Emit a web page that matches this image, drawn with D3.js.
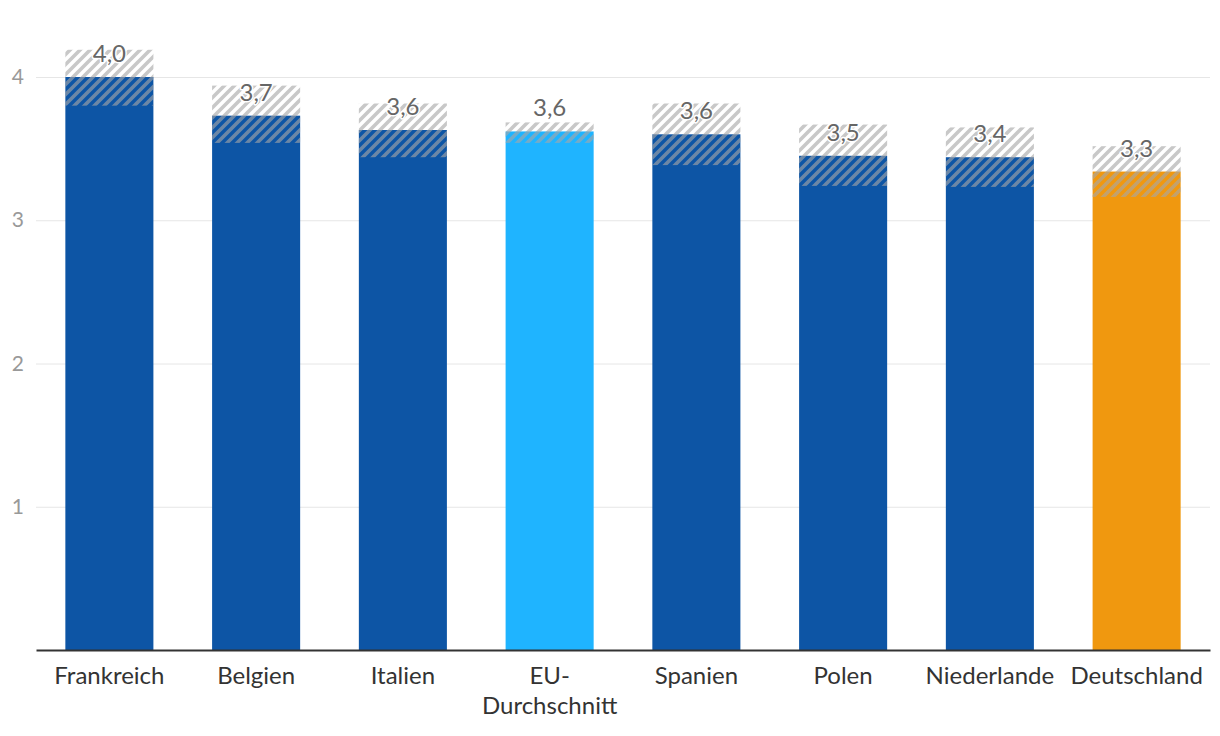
<!DOCTYPE html>
<html>
<head>
<meta charset="utf-8">
<script src="https://cdn.jsdelivr.net/npm/d3@7"></script>
<style>
html,body{margin:0;padding:0;background:#fff;}
svg{display:block;font-family:Lato,"Open Sans",sans-serif;}
</style>
</head>
<body>
<svg id="chart" width="1220" height="736"></svg>
<script>
const categories = ["Frankreich","Belgien","Italien","EU-Durchschnitt","Spanien","Polen","Niederlande","Deutschland"];
const categoryLines = [["Frankreich"],["Belgien"],["Italien"],["EU-","Durchschnitt"],["Spanien"],["Polen"],["Niederlande"],["Deutschland"]];
const values = [4.00, 3.73, 3.63, 3.62, 3.60, 3.45, 3.44, 3.34];
const lower  = [3.80, 3.54, 3.44, 3.54, 3.385, 3.24, 3.233, 3.163];
const upper  = [4.19, 3.94, 3.815, 3.683, 3.815, 3.668, 3.648, 3.517];
const colorKeys = ["land","land","land","eu","land","land","land","de"];
const yTicks = [1, 2, 3, 4];

const palette = {land:"#0d55a5", eu:"#1fb4ff", de:"#f0980f"};

const svg = d3.select("#chart");
const x = d3.scaleBand().domain(categories).range([36, 1210]).paddingInner(0.4).paddingOuter(0.2);
const y = d3.scaleLinear().domain([0, 4]).range([650, 77]);

// pattern
const defs = svg.append("defs");
const pat = defs.append("pattern").attr("id","hatch").attr("patternUnits","userSpaceOnUse")
  .attr("width",10).attr("height",10);
pat.append("path").attr("d","M-2,12 L12,-2 M-2,2 L2,-2 M8,12 L12,8")
  .attr("stroke","rgb(166,166,166)").attr("stroke-opacity",0.62).attr("stroke-width",3.6).attr("fill","none");

// grid
const yAxis = d3.axisLeft(y).tickValues(yTicks).tickSize(-(1210-36)).tickPadding(12).tickFormat(d3.format("d"));
const gy = svg.append("g").attr("transform","translate(36,0)").call(yAxis);
gy.select(".domain").remove();
gy.selectAll(".tick line").attr("stroke","#e6e6e6").attr("stroke-width",1);
gy.selectAll(".tick text").attr("fill","#999").attr("font-size",21).attr("font-family","Lato");

const data = categories.map((c,i)=>({c, v:values[i], lo:lower[i], hi:upper[i], k:colorKeys[i]}));

// bars
svg.append("g").selectAll("rect").data(data).join("rect")
  .attr("x",d=>x(d.c)).attr("width",x.bandwidth())
  .attr("y",d=>y(d.v)).attr("height",d=>y(0)-y(d.v))
  .attr("fill",d=>palette[d.k]);

// hatched interval
svg.append("g").selectAll("rect").data(data).join("rect")
  .attr("x",d=>x(d.c)).attr("width",x.bandwidth())
  .attr("y",d=>y(d.hi)).attr("height",d=>y(d.lo)-y(d.hi))
  .attr("fill","url(#hatch)");

// baseline
const xAxis = d3.axisBottom(x).tickSize(0).tickFormat("");
const gx = svg.append("g").attr("transform",`translate(0,${y(0)})`).call(xAxis);
gx.select(".domain").attr("stroke","#333").attr("stroke-width",2);

// category labels
const lab = svg.append("g").selectAll("text").data(data).join("text")
  .attr("x",d=>x(d.c)+x.bandwidth()/2).attr("y",684)
  .attr("text-anchor","middle").attr("fill","#333").attr("font-size",24).attr("font-family","Lato");
lab.each(function(d,i){
  const t = d3.select(this);
  categoryLines[i].forEach((line,j)=>{
    t.append("tspan").attr("x",x(d.c)+x.bandwidth()/2).attr("dy", j===0?0:30).text(line);
  });
});

// value labels
const fmt = v => d3.format(".1f")(v).replace(".",",");
svg.append("g").selectAll("text").data(data).join("text")
  .attr("x",d=>x(d.c)+x.bandwidth()/2).attr("y",d=>y(d.v)-15)
  .attr("text-anchor","middle").attr("font-size",24).attr("font-family","Lato")
  .attr("fill","#666").attr("stroke","#fff").attr("stroke-width",3).attr("stroke-linejoin","round")
  .attr("paint-order","stroke")
  .text(d=>fmt(d.v));
</script>
</body>
</html>
